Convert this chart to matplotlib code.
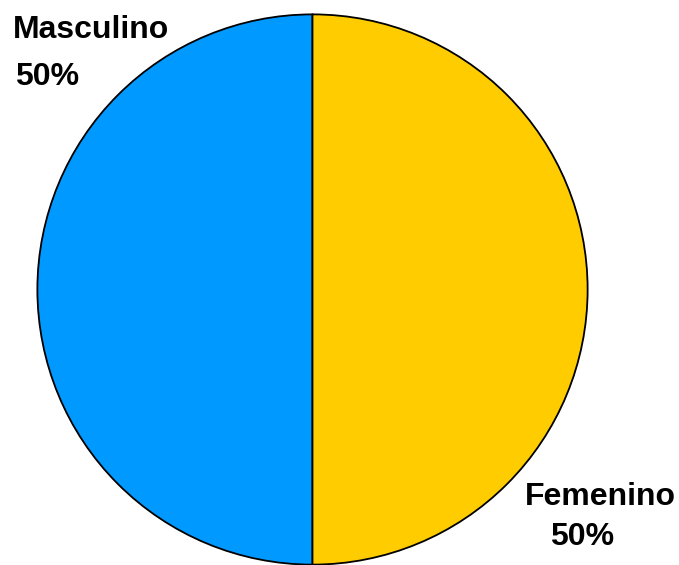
import matplotlib
matplotlib.use("Agg")
import matplotlib.pyplot as plt

labels = ["Masculino", "Femenino"]
values = [50, 50]
colors = ["#0099FF", "#FFCC00"]

# label anchor points (figure fraction) for name and percentage lines
name_pos = [(0.019, 0.947), (0.773, 0.120)]
pct_pos = [(0.022, 0.864), (0.810, 0.050)]

plt.rcParams["font.family"] = ["Liberation Sans", "DejaVu Sans"]

fig = plt.figure(figsize=(6.79, 5.65), dpi=100)
ax = fig.add_axes([36 / 679, -2 / 565, 553 / 679, 555 / 565])
ax.pie(values, colors=colors, startangle=90, counterclock=True, radius=1,
       wedgeprops=dict(edgecolor="black", linewidth=1.3))
ax.set_xlim(-1.005, 1.005)
ax.set_ylim(-1.005, 1.005)
ax.set_aspect("equal")
ax.axis("off")

total = sum(values)
for lab, val, npos, ppos in zip(labels, values, name_pos, pct_pos):
    fig.text(npos[0], npos[1], lab, ha="left", va="center",
             fontsize=23, fontweight="bold")
    fig.text(ppos[0], ppos[1], f"{val / total * 100:.0f}%", ha="left",
             va="center", fontsize=23, fontweight="bold")

fig.savefig("out.png", dpi=100, facecolor="white")
